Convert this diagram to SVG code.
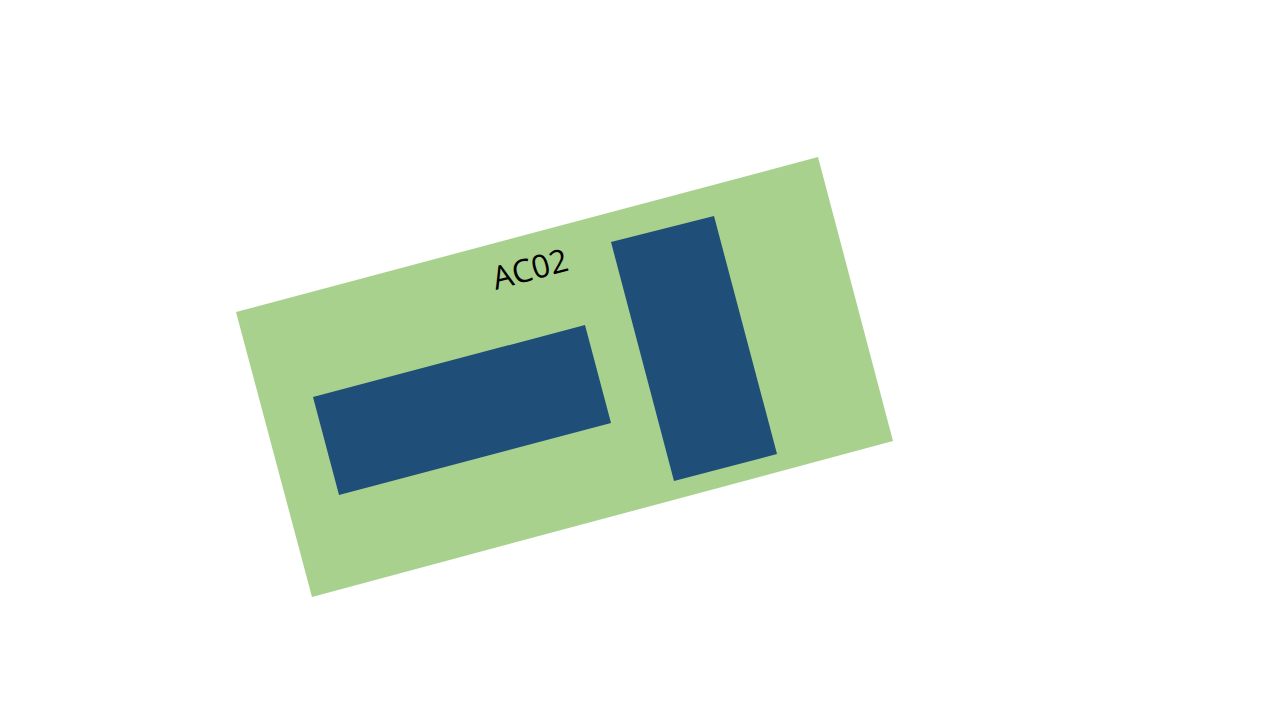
<svg xmlns="http://www.w3.org/2000/svg" width="1280" height="720" viewBox="0 0 1280 720">
<style>
.blk{fill:#1F4E79}
.lbl{font-family:"Open Sans","Liberation Sans",sans-serif;font-size:32px;fill:#000}
</style>
<rect width="1280" height="720" fill="#fff"/>
<g id="ac02">
<polygon points="236,312 818,157 893,441 312,597" fill="#A9D18E"/>
<text class="lbl" x="0" y="0" text-anchor="middle" transform="translate(533,280) rotate(-15)">AC02</text>
</g>
<g id="block1"><polygon class="blk" points="313,397 585,325 611,423 339,495"/></g>
<g id="block2"><polygon class="blk" points="611,242 714,216 777,454 674,481"/></g>
<g id="connectors"/>
</svg>
